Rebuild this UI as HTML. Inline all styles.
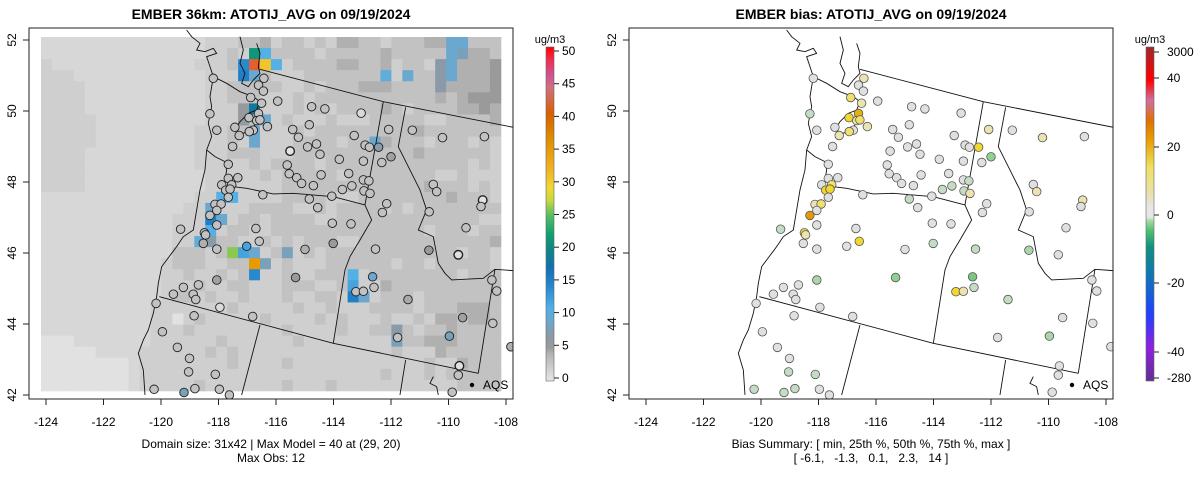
<!DOCTYPE html>
<html><head><meta charset="utf-8"><style>
body{margin:0;background:#fff;}
svg{display:block;font-family:"Liberation Sans",Arial,sans-serif;}
</style></head><body>
<svg id="root" width="1200" height="479" viewBox="0 0 1200 479" xmlns="http://www.w3.org/2000/svg">
<defs>
<clipPath id="clipL"><rect x="29" y="28" width="484" height="371"/></clipPath>
<clipPath id="clipR"><rect x="629" y="28" width="484" height="371"/></clipPath>
<linearGradient id="gradL" x1="0" y1="1" x2="0" y2="0">
<stop offset="0" stop-color="#e6e6e6"/><stop offset="0.04" stop-color="#cdcdcd"/><stop offset="0.08" stop-color="#b4b4b4"/>
<stop offset="0.1" stop-color="#9a9a9a"/><stop offset="0.14" stop-color="#8a9aa8"/><stop offset="0.18" stop-color="#6aa8d0"/>
<stop offset="0.22" stop-color="#50b0e8"/><stop offset="0.28" stop-color="#2a88d0"/><stop offset="0.34" stop-color="#1070b0"/>
<stop offset="0.4" stop-color="#108a80"/><stop offset="0.44" stop-color="#10a070"/><stop offset="0.5" stop-color="#60c060"/>
<stop offset="0.54" stop-color="#c8d840"/><stop offset="0.58" stop-color="#f0d830"/><stop offset="0.64" stop-color="#f0b020"/>
<stop offset="0.72" stop-color="#e09000"/><stop offset="0.8" stop-color="#d86000"/><stop offset="0.88" stop-color="#d07080"/>
<stop offset="0.92" stop-color="#d05090"/><stop offset="0.96" stop-color="#f03050"/><stop offset="1" stop-color="#ff0000"/>
</linearGradient>
<linearGradient id="gradR" x1="0" y1="1" x2="0" y2="0">
<stop offset="0" stop-color="#603090"/><stop offset="0.1" stop-color="#9020e0"/><stop offset="0.2" stop-color="#2040ff"/>
<stop offset="0.3" stop-color="#1070c0"/><stop offset="0.4" stop-color="#109080"/><stop offset="0.45" stop-color="#50c070"/>
<stop offset="0.48" stop-color="#a8d8a8"/><stop offset="0.49" stop-color="#e6e6e6"/><stop offset="0.52" stop-color="#e6e6e6"/>
<stop offset="0.56" stop-color="#e8e0b0"/><stop offset="0.64" stop-color="#f0e060"/><stop offset="0.72" stop-color="#e8a000"/>
<stop offset="0.78" stop-color="#e07000"/><stop offset="0.84" stop-color="#d070a0"/><stop offset="0.9" stop-color="#ff0000"/>
<stop offset="1" stop-color="#a02828"/>
</linearGradient>
</defs>
<text x="271" y="19" text-anchor="middle" font-size="14" font-weight="bold">EMBER 36km: ATOTIJ_AVG on 09/19/2024</text>
<text x="871" y="19" text-anchor="middle" font-size="14" font-weight="bold">EMBER bias: ATOTIJ_AVG on 09/19/2024</text>
<g id="gridL" clip-path="url(#clipL)"></g>
<g clip-path="url(#clipL)"><g id="mapL"></g></g>
<g clip-path="url(#clipR)"><g id="mapR"></g></g>
<g id="ptsL" clip-path="url(#clipL)"></g>
<g id="ptsR" clip-path="url(#clipR)"></g>
<g id="axes"></g>
<text x="271" y="448" text-anchor="middle" font-size="12">Domain size: 31x42 | Max Model = 40 at (29, 20)</text>
<text x="271" y="462" text-anchor="middle" font-size="12">Max Obs: 12</text>
<text x="871" y="448" text-anchor="middle" font-size="12">Bias Summary: [ min, 25th %, 50th %, 75th %, max ]</text>
<text x="871" y="462" text-anchor="middle" font-size="12" xml:space="preserve">[ -6.1,   -1.3,   0.1,   2.3,   14 ]</text>
<rect x="546" y="47" width="8" height="334" fill="url(#gradL)"/>
<rect x="1146" y="47" width="8" height="334" fill="url(#gradR)"/>
<text x="550" y="43" text-anchor="middle" font-size="11">ug/m3</text>
<text x="1150" y="43" text-anchor="middle" font-size="11">ug/m3</text>
<g id="cbars"></g>
</svg>
<script>
const NS="http://www.w3.org/2000/svg";
// model grid: 32 rows x 42 cols, digit = gray class
const gridRows=[
"111111111111111222334233232443323334473333",
"111111111111111223233333323333343333373443",
"211111111111112223322223333443342332374445",
"222111111111111222333222333333332733374445",
"222211111111111223333322323334443333344445",
"222211111111111223332223233333333333434555",
"222211111111111222332223232333343233334454",
"222221111111111222332232223222333332233334",
"222221111111112223322223233333333343333333",
"222221111111112223232223333233343332333232",
"222211111111112223332223333333333343333332",
"222211111111112222232333323333333333333232",
"222211111111111222223233333233333333223222",
"222211111111111222222233333333333334333232",
"111111111111112222222233332223333333343332",
"111111111111122222233332232333323233333333",
"111111111111222222332333322333333333333322",
"111111111111222223322333333333333332333233",
"111111111111223333223232333223333333333334",
"111111111111333233232322323333333333332332",
"111111111112333223333232223333332332333332",
"111111111112232232332232233332333333332333",
"111111111112223223322233322332243333333333",
"111111111112332322322232233232233323333333",
"111111111122222223222223223222333323334443",
"111111111122023222223222232322232232443443",
"111111111122232222222232222322333323343333",
"000111111122222232222223222222222334443333",
"000001111222222323222222222222223222433333",
"000000001222222223222232222222222223224333",
"000000001222222222222222222222232223233333",
"000000001222223222222232223222222222223333"];
const classValue=[0.4,1.3,2,3,4,5.5,7,9,11,13];
const overCols=[19,20,19,20,21,18,18,19,38,38,31,36,36,36,18,19,20,19,19,18,30,16,17,15,15,16,15,14,15,17,18,19,19,20,19,22,28,28,28,29,32,32];
const overRows=[1,1,2,2,2,2,3,3,0,1,3,2,3,4,6,6,7,8,9,7,9,14,14,15,16,16,17,18,18,19,19,19,20,20,21,19,21,22,23,23,26,27];
const overVals=[21,11,40,30,11,14,15,9,9,8,10,7,7,7,6,18,9,9,9,6,9,11,11,9,15,9,11,10,7,25,12,9,36,8,14,8,11,12,15,9,7,8];
// stations
const stLon=[-118.18,-116.42,-116.61,-116.44,-116.88,-116.50,-115.94,-114.76,-114.30,-113.04,-118.30,-116.61,-116.94,-116.67,-116.56,-117.43,-118.06,-116.30,-116.79,-116.93,-117.28,-115.42,-114.84,-112.08,-111.26,-110.21,-108.75,-113.28,-115.22,-117.51,-115.51,-114.90,-114.59,-114.47,-112.90,-112.75,-112.43,-112.00,-112.32,-113.80,-112.96,-117.66,-115.61,-115.54,-115.28,-115.11,-114.43,-113.47,-112.96,-112.77,-117.33,-117.66,-117.89,-117.75,-117.54,-117.60,-114.70,-113.69,-113.36,-112.94,-112.73,-110.53,-110.41,-116.46,-114.84,-114.06,-117.66,-114.55,-112.15,-112.30,-108.81,-108.87,-110.67,-118.12,-117.91,-118.06,-118.30,-118.06,-119.32,-116.70,-114.04,-113.39,-109.39,-118.49,-118.45,-118.53,-118.06,-117.02,-116.58,-114.99,-114.01,-112.54,-110.68,-109.66,-118.06,-115.32,-112.64,-112.59,-113.22,-112.96,-119.22,-118.70,-119.57,-118.88,-118.79,-108.49,-108.32,-120.17,-117.95,-111.41,-118.85,-116.81,-109.51,-108.46,-119.95,-111.77,-109.97,-119.43,-119.01,-107.83,-119.04,-118.11,-109.62,-109.66,-120.24,-118.82,-117.97,-119.20,-109.87,-117.62];
const stLat=[50.92,50.92,50.73,50.56,50.38,50.22,50.28,50.12,50.06,49.94,49.92,49.93,49.81,49.73,49.75,49.54,49.46,49.56,49.46,49.42,49.31,49.48,49.61,49.48,49.46,49.25,49.28,49.31,49.26,49.00,48.87,48.99,49.07,48.78,49.04,48.98,48.98,48.71,48.55,48.64,48.59,48.50,48.48,48.23,48.12,47.96,48.20,48.24,48.06,48.03,48.12,48.10,47.92,47.77,47.92,47.80,47.90,47.79,47.89,47.75,47.68,47.93,47.73,47.64,47.52,47.60,47.57,47.28,47.39,47.14,47.49,47.31,47.16,47.37,47.38,47.20,47.06,46.79,46.67,46.69,46.84,46.82,46.71,46.57,46.51,46.27,46.11,46.19,46.33,46.10,46.27,46.11,46.08,45.95,45.24,45.31,45.33,45.03,44.91,44.92,45.03,45.10,44.84,44.84,44.69,45.24,44.93,44.58,44.47,44.69,44.23,44.21,44.18,44.02,43.78,43.62,43.66,43.34,43.03,43.36,42.65,42.58,42.82,42.56,42.16,42.18,42.16,42.07,42.08,42.00];
const stObs=[3,3,3,3,3,3,3,3,3,1,3,3,3,3,3,3,3,3,3,3,3,3,3,3,3,3,3,3,3,3,0.3,3,3,3,3,3,7,5,3,3,3,3,3,3,3,3,3,3,3,3,3,3,3,3,3,3,3,3,3,3,3,3,3,3,3,3,3,3,3,3,0.3,3,3,3,3,3,3,3,3,3,3,3,3,3,3,4,3,12,3,4,5.5,3,5.5,0.5,5,5.5,9,3,3,3,3,3,3,3,3,3,3,3,1,4.5,3,3,5,3,3,3,8,3,3,4,3,3,0.5,3,3,3,3,8,3,3];
const stBias=[0,3,0,0,6,3,0,0,0,0,-2,12,8,4,6,0,0,3,0,6,3,0,0,3,0,3,0,0,0,0,0,0,0,0,0,0,8,-4,0,0,0,0,0,0,0,0,0,0,0,-2,0,0,0,8,6,8,0,-2,-2,-2,3,0,3,0,-2,0,0,0,0,0,3,0,0,3,6,0,14,0,-2,0,0,0,0,8,3,0,0,0,8,0,-2,-2,-3,0,-3,-4,-5,-2,8,3,0,0,0,0,0,0,0,0,0,-2,0,0,0,0,0,0,-3,0,0,0,-2,-2,0,0,-2,-2,0,-2,0,0];
const xTicks=[-124,-122,-120,-118,-116,-114,-112,-110,-108];
const yTicks=[42,44,46,48,50,52];
const cbLTicks=[0,5,10,15,20,25,30,35,40,45,50];
const cbRLabels=["-280","-40","-20","0","20","40","3000"];

function X(lon,off){return off+46+(lon+124)*28.75;}
function Y(lat){return 40+(52-lat)*35.5;}
function hex(c){return [parseInt(c.substr(1,2),16),parseInt(c.substr(3,2),16),parseInt(c.substr(5,2),16)];}
function interp(stops,v){
  if(v<=stops[0][0])return stops[0][1];
  for(let i=1;i<stops.length;i++){if(v<=stops[i][0]){const a=stops[i-1],b=stops[i];const t=(v-a[0])/(b[0]-a[0]);const A=hex(a[1]),B=hex(b[1]);return "rgb("+A.map((x,k)=>Math.round(x+(B[k]-x)*t)).join(",")+")";}}
  return stops[stops.length-1][1];
}
const modelStops=[[0,"#e6e6e6"],[1.3,"#d7d7d7"],[2,"#cfcfcf"],[3,"#c2c2c2"],[4,"#b0b0b0"],[5.5,"#9a9a9a"],[7,"#8a9aa8"],[9,"#6aa8d0"],[11,"#55b0e6"],[14,"#2a88d0"],[17,"#1070b0"],[20,"#108a80"],[22,"#10a070"],[25,"#8cc850"],[29,"#f0d030"],[32,"#f0b020"],[36,"#e89a00"],[40,"#e06030"],[44,"#d07080"],[48,"#f03050"],[50,"#ff0000"]];
const biasStops=[[-8,"#40b060"],[-6,"#60c070"],[-4,"#90d090"],[-2,"#c4dcc4"],[0,"#e0e0e0"],[3,"#ece4b0"],[6,"#f0e070"],[8,"#f0d830"],[12,"#e8b010"],[15,"#e09000"]];

function mk(tag,attrs,parent){const e=document.createElementNS(NS,tag);for(const k in attrs)e.setAttribute(k,attrs[k]);parent.appendChild(e);return e;}
// heatmap
const gL=document.getElementById("gridL");
const cw=10.95,ch=11.06,gx0=41,gy0=37;
const vals=gridRows.map(r=>{let s=(r+"222222222222").substr(0,42);return s.split("").map(c=>classValue[+c]);});
for(let i=0;i<overCols.length;i++){vals[overRows[i]][overCols[i]]=overVals[i];}
vals.forEach((row,r)=>row.forEach((v,c)=>{
  const e=mk("rect",{x:(gx0+c*cw).toFixed(2),y:(gy0+r*ch).toFixed(2),width:cw+0.4,height:ch+0.4,fill:interp(modelStops,v)},gL);
  
  
}));
// map lines (in zoom coords, 3x)
const coast="M440,0 L455,20 L480,40 L470,60 L495,65 L520,55 L530,70 L500,80 L510,110 L520,140 L560,160 L600,185 L640,200 M600,20 L610,60 L600,100 L615,130 L605,160 L625,170 L640,150 L660,130 L655,110 L660,70 L650,40 M640,200 L660,215 L650,240 L625,250 L600,275 L585,300 L610,310 L640,290 L660,270 M520,140 L510,200 L515,230 L505,280 L515,320 L500,360 L525,380 L555,395 L560,420 L555,450 L580,470 M500,360 L495,420 L480,480 L470,540 L460,600 L430,620 L410,650 L395,670 L380,690 L365,710 L355,760 L350,800 L340,850 L325,900 L310,930 L295,970 L310,1020 L315,1095";
const borders="M660,118 L1030,215 L1420,292 M1030,215 L975,525 L995,570 L960,630 L930,680 L915,720 L880,940 M580,470 L620,475 L700,492 L760,490 L880,500 L975,525 M1097,232 L1075,350 L1110,420 L1140,480 L1160,540 L1135,600 L1180,620 L1195,700 L1215,730 L1235,750 L1330,745 L1365,718 L1420,722 M1365,718 L1315,1030 M358,800 L880,940 L1315,1030 M660,885 L605,1095 M1097,990 L1080,1095 M1180,1040 L1170,1060 L1190,1070 L1195,1095";
[["mapL",40],["mapR",640]].forEach(([id,ox])=>{
  const g=document.getElementById(id);
  g.setAttribute("transform","translate("+ox+",30) scale(0.3333)");
  const a=mk("path",{d:coast,fill:"none",stroke:"#111","stroke-width":"0.9","vector-effect":"non-scaling-stroke"},g);
  
  
  const b=mk("path",{d:borders,fill:"none",stroke:"#111","stroke-width":"0.9","vector-effect":"non-scaling-stroke"},g);
  
  
});
// stations
const pL=document.getElementById("ptsL"),pR=document.getElementById("ptsR");
for(let i=0;i<stLon.length;i++){
  const ob=stObs[i]===undefined?3:stObs[i];
  const bi=stBias[i]===undefined?0:stBias[i];
  const c1=mk("circle",{cx:X(stLon[i],0).toFixed(1),cy:Y(stLat[i]).toFixed(1),r:4.3,fill:interp(modelStops,ob),stroke:"#222","stroke-width":ob<1?1.4:0.9},pL);
  
  
  const c2=mk("circle",{cx:X(stLon[i],600).toFixed(1),cy:Y(stLat[i]).toFixed(1),r:4.3,fill:interp(biasStops,bi),stroke:"#555","stroke-width":0.8},pR);
  
  
}
// axes
const ax=document.getElementById("axes");
[0,600].forEach(off=>{
  const fr=mk("rect",{x:29+off,y:28,width:484,height:371,fill:"none",stroke:"#222","stroke-width":1},ax);
  
  
  xTicks.forEach(t=>{
    const x=X(t,off);
    mk("line",{x1:x,x2:x,y1:399,y2:405,stroke:"#222"},ax);
    const tx=mk("text",{x:x,y:426,"text-anchor":"middle","font-size":12},ax);
    tx.textContent=t;
    
    
  });
  yTicks.forEach(t=>{
    const y=Y(t);
    mk("line",{x1:29+off,x2:23+off,y1:y,y2:y,stroke:"#222"},ax);
    const tx=mk("text",{x:0,y:0,"text-anchor":"middle","font-size":12,transform:"translate("+(16+off)+","+y+") rotate(-90)"},ax);
    tx.textContent=t;
    
    
  });
  const dot=mk("circle",{cx:472+off,cy:385,r:2.2,fill:"#000"},ax);
  
  
  const at=mk("text",{x:483+off,y:389,"font-size":12},ax);
  at.textContent="AQS";
  
  
});
// colorbars
const cb=document.getElementById("cbars");
mk("rect",{x:546,y:47,width:8,height:334,fill:"none",stroke:"#666","stroke-width":0.6},cb);
mk("rect",{x:1146,y:47,width:8,height:334,fill:"none",stroke:"#666","stroke-width":0.6},cb);
cbLTicks.forEach(t=>{
  const y=378-t*(327/50);
  mk("line",{x1:554,x2:559,y1:y,y2:y,stroke:"#222"},cb);
  const tx=mk("text",{x:562,y:y+4,"font-size":12},cb);
  tx.textContent=t;
  
  
});
const cbRy=[378,352,283,215,147,78,52];
cbRLabels.forEach((t,i)=>{
  const y=cbRy[i];
  mk("line",{x1:1154,x2:1159,y1:y,y2:y,stroke:"#222"},cb);
  const tx=mk("text",{x:1167,y:y+4,"font-size":12},cb);
  tx.textContent=t;
  
  
});
</script>
</body></html>
